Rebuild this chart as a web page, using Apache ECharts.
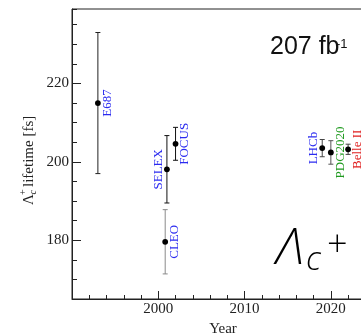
<!DOCTYPE html>
<html><head><meta charset="utf-8">
<script src="https://cdn.jsdelivr.net/npm/echarts@6/dist/echarts.min.js"></script>
<style>html,body{margin:0;padding:0;background:#fff}#c{width:361px;height:335px}</style>
</head><body><div id="c"></div>
<script>
// ---- data ----
const experiments = ['E687', 'SELEX', 'FOCUS', 'CLEO', 'LHCb', 'PDG2020', 'Belle II'];
const years       = [1993, 2001, 2002, 2000.8, 2019, 2020, 2022];
const lifetimes   = [215.0, 198.1, 204.6, 179.6, 203.5, 202.4, 203.2];
const errors      = [18.0, 8.6, 4.2, 8.2, 2.2, 3.0, 1.3];
const yMajorTicks = [180, 200, 220];
const xMajorTicks = [2000, 2010, 2020];
const lumiLabel = '207 fb';
const lumiSup = '-1';

// ---- styles (not data) ----
const BLUE = '#2b2bf0', GREEN = '#1f9a1f', RED = '#e02020';
const labelStyle = {
  'E687':    { color: BLUE,  side: 'right', bar: '#222' },
  'SELEX':   { color: BLUE,  side: 'left',  bar: '#111' },
  'FOCUS':   { color: BLUE,  side: 'right', bar: '#111' },
  'CLEO':    { color: BLUE,  side: 'right', bar: '#8a8a8a' },
  'LHCb':    { color: BLUE,  side: 'left',  bar: '#444' },
  'PDG2020': { color: GREEN, side: 'right', bar: '#555' },
  'Belle II':{ color: RED,   side: 'right', bar: '#444' }
};
const SERIF = '"Liberation Serif", "Times New Roman", serif';
const LIGHT = '"Open Sans", "Lato", sans-serif';

const seriesData = experiments.map((n, i) => [years[i], lifetimes[i], errors[i]]);

const chart = echarts.init(document.getElementById('c'), null, { renderer: 'canvas' });
chart.setOption({
  animation: false,
  backgroundColor: '#fff',
  grid: { left: 72, top: 9, width: 302, height: 290, show: true, borderColor: '#222', borderWidth: 1,
          containLabel: false, outerBoundsMode: 'none' },
  xAxis: [
    {
      type: 'value', min: 1990, max: 2025, interval: 10, position: 'bottom',
      splitLine: { show: false },
      axisLine: { show: true, onZero: false, lineStyle: { color: '#222' } },
      axisTick: { show: true, inside: true, length: 8, lineStyle: { color: '#222' } },
      axisLabel: { show: true, margin: 3, showMinLabel: false, showMaxLabel: false,
        fontFamily: SERIF, fontSize: 15, color: '#222',
        formatter: v => xMajorTicks.includes(v) ? String(v) : '' },
      name: 'Year', nameLocation: 'middle', nameGap: 21,
      nameTextStyle: { fontFamily: SERIF, fontSize: 15, color: '#222' }
    },
    {
      type: 'value', min: 1990, max: 2025, interval: 2, position: 'bottom',
      splitLine: { show: false },
      axisLine: { show: false, onZero: false },
      axisTick: { show: true, inside: true, length: 4, lineStyle: { color: '#222' } },
      axisLabel: { show: false }
    }
  ],
  yAxis: [
    {
      type: 'value', min: 165, max: 239, position: 'left',
      splitLine: { show: false },
      axisLine: { show: true, onZero: false, lineStyle: { color: '#222' } },
      axisTick: { show: true, inside: true, length: 9, customValues: yMajorTicks, lineStyle: { color: '#222' } },
      axisLabel: { show: true, margin: 3, customValues: yMajorTicks, fontFamily: SERIF, fontSize: 15, color: '#222' }
    },
    {
      type: 'value', min: 165, max: 239, interval: 5, position: 'left',
      splitLine: { show: false },
      axisLine: { show: false, onZero: false },
      axisTick: { show: true, inside: true, length: 5, lineStyle: { color: '#222' } },
      axisLabel: { show: false }
    }
  ],
  series: [{
    type: 'custom',
    xAxisIndex: 0, yAxisIndex: 0,
    data: seriesData,
    clip: false,
    renderItem: function (params, api) {
      const i = params.dataIndex;
      const x = api.value(0), y = api.value(1), e = api.value(2);
      const p = api.coord([x, y]);
      const pt = api.coord([x, y + e]);
      const pb = api.coord([x, y - e]);
      const name = experiments[i];
      const st = labelStyle[name];
      const lw = { stroke: st.bar, lineWidth: 1 };
      const right = st.side === 'right';
      return {
        type: 'group',
        children: [
          { type: 'line', shape: { x1: p[0], y1: pt[1], x2: p[0], y2: pb[1] }, style: lw },
          { type: 'line', shape: { x1: p[0] - 2.5, y1: pt[1], x2: p[0] + 2.5, y2: pt[1] }, style: lw },
          { type: 'line', shape: { x1: p[0] - 2.5, y1: pb[1], x2: p[0] + 2.5, y2: pb[1] }, style: lw },
          { type: 'circle', shape: { cx: p[0], cy: p[1], r: 2.9 }, style: { fill: '#000' } },
          { type: 'text', x: p[0] + (right ? 3 : -2), y: p[1], rotation: Math.PI / 2,
            style: { text: name, fill: st.color, font: '13px ' + SERIF,
              align: 'center', verticalAlign: right ? 'top' : 'bottom' } }
        ]
      };
    }
  }],
  graphic: [
    // y-axis title
    {
      type: 'group', x: 29, y: 154, rotation: Math.PI / 2,
      children: [
        { type: 'text', x: -51, y: 0, style: { text: 'Λ', font: '15px ' + SERIF, fill: '#222', verticalAlign: 'middle', align: 'left' } },
        { type: 'text', x: -40.5, y: 4, style: { text: 'c', font: 'italic 10px ' + SERIF, fill: '#222', verticalAlign: 'middle', align: 'left' } },
        { type: 'text', x: -41, y: -6, style: { text: '+', font: '10px ' + SERIF, fill: '#222', verticalAlign: 'middle', align: 'left' } },
        { type: 'text', x: -33, y: 0, style: { text: 'lifetime [fs]', font: '15px ' + SERIF, fill: '#222', verticalAlign: 'middle', align: 'left' } }
      ]
    },
    { type: 'text', x: 270, y: 47, style: { text: lumiLabel, font: '25px "Liberation Sans", Arial, sans-serif', fill: '#111', verticalAlign: 'middle', align: 'left' } },
    { type: 'text', x: 336, y: 44, style: { text: lumiSup, font: '13px "Liberation Sans", Arial, sans-serif', fill: '#111', verticalAlign: 'middle', align: 'left' } },
    { type: 'text', x: 276, y: 250, style: { text: 'Λ', font: 'italic 350 50px ' + LIGHT, fill: '#000', verticalAlign: 'middle', align: 'left' } },
    { type: 'text', x: 306, y: 261, style: { text: 'c', font: 'italic 350 33px ' + LIGHT, fill: '#000', verticalAlign: 'middle', align: 'left' } },
    { type: 'text', x: 327, y: 246, style: { text: '+', font: '350 36px ' + LIGHT, fill: '#000', verticalAlign: 'middle', align: 'left' } }
  ]
});
</script>
</body></html>
